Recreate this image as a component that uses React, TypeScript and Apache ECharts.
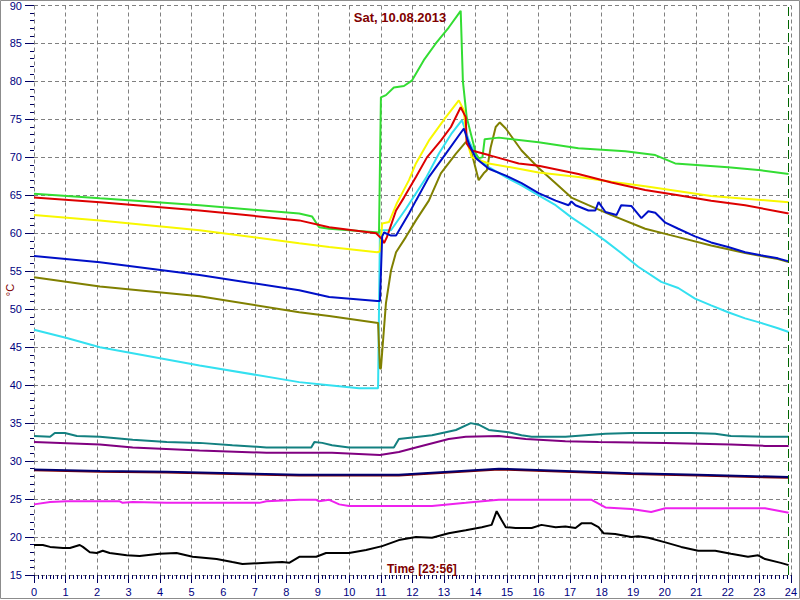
import { useEffect, useRef } from "react";
import * as echarts from "echarts";

const titleText = "Sat, 10.08.2013";
const xLabelText = "Time [23:56]";
const yLabelText = "°C";
const nowHour = 23.93;

const greenT = [0, 2.09, 5.25, 8.41, 8.82, 9.04, 9.36, 10.94, 11.0, 11.16, 11.41, 11.73, 11.98, 12.36, 12.74, 13.15, 13.53, 13.6, 13.72, 14.01, 14.1, 14.22, 14.29, 14.74, 16.0, 17.26, 18.75, 19.7, 20.33, 22.01, 23.05, 23.93];
const greenV = [65.2, 64.6, 63.7, 62.6, 62.2, 60.8, 60.6, 60.1, 77.9, 78.2, 79.2, 79.4, 80.1, 82.8, 85.0, 87.1, 89.3, 80.0, 75.3, 70.5, 69.9, 70.0, 72.4, 72.6, 72.0, 71.2, 70.8, 70.3, 69.2, 68.7, 68.3, 67.8];

const redT = [0, 2.09, 5.25, 8.41, 9.36, 10.85, 11.04, 11.1, 11.19, 11.48, 11.73, 12.11, 12.46, 12.9, 13.22, 13.53, 13.69, 13.72, 13.88, 14.42, 15.37, 16.0, 17.26, 18.31, 19.38, 20.43, 21.47, 22.55, 23.93];
const redV = [64.7, 64.1, 63.0, 61.7, 60.8, 60.0, 59.2, 58.7, 59.5, 63.0, 64.7, 67.4, 70.0, 72.2, 74.0, 76.6, 75.3, 71.8, 70.9, 70.3, 69.2, 68.9, 67.8, 66.7, 65.7, 65.0, 64.3, 63.7, 62.6];

const yellowT = [0, 2.09, 5.25, 8.41, 9.36, 10.88, 10.97, 11.04, 11.26, 11.51, 11.89, 12.11, 12.52, 13.06, 13.47, 13.63, 13.72, 13.88, 14.42, 15.37, 16.0, 17.26, 18.31, 19.38, 21.47, 23.93];
const yellowV = [62.4, 61.7, 60.4, 58.7, 58.2, 57.5, 57.6, 61.3, 61.5, 64.0, 67.0, 69.2, 72.2, 75.3, 77.5, 76.2, 72.2, 70.0, 69.2, 68.5, 68.0, 67.4, 66.8, 66.2, 64.9, 64.1];

const blueT = [0, 2.09, 5.25, 8.41, 9.36, 10.88, 10.97, 11.04, 11.1, 11.32, 11.48, 11.89, 12.11, 12.52, 13.06, 13.63, 13.79, 14.01, 14.42, 14.96, 15.46, 16.0, 16.54, 16.95, 17.04, 17.17, 17.58, 17.8, 17.9, 18.12, 18.47, 18.62, 18.94, 19.26, 19.48, 19.7, 20.02, 20.43, 20.96, 21.47, 22.01, 22.55, 23.05, 23.59, 23.93];
const blueV = [57.0, 56.2, 54.5, 52.5, 51.6, 51.1, 51.1, 59.6, 60.1, 59.7, 59.7, 62.6, 64.3, 67.4, 70.5, 73.8, 71.8, 69.9, 68.5, 67.6, 66.6, 65.3, 64.3, 63.7, 64.2, 63.7, 63.0, 63.0, 64.1, 62.8, 62.4, 63.7, 63.6, 62.0, 62.9, 62.7, 61.4, 60.6, 59.6, 58.8, 58.2, 57.5, 57.1, 56.7, 56.3];

const cyanT = [0, 1.04, 2.09, 5.25, 8.41, 9.36, 10.31, 10.91, 10.97, 11.32, 11.79, 12.43, 12.84, 13.25, 13.57, 13.79, 14.04, 14.42, 14.96, 15.46, 16.0, 16.54, 17.04, 17.58, 18.12, 18.62, 19.16, 19.89, 20.43, 20.96, 21.47, 22.01, 22.55, 23.05, 23.59, 23.93];
const cyanV = [47.3, 46.2, 45.0, 42.6, 40.4, 40.0, 39.6, 39.6, 60.4, 60.4, 63.2, 67.3, 70.5, 73.2, 74.9, 72.2, 70.0, 68.7, 67.4, 66.3, 65.0, 63.7, 62.1, 60.6, 59.0, 57.4, 55.6, 53.6, 52.8, 51.4, 50.5, 49.6, 48.8, 48.2, 47.5, 47.0];

const oliveT = [0, 2.09, 5.25, 8.41, 9.36, 10.91, 10.97, 11.0, 11.16, 11.32, 11.48, 11.79, 12.11, 12.52, 12.9, 13.38, 13.69, 13.79, 13.94, 14.1, 14.26, 14.36, 14.48, 14.64, 14.77, 14.96, 15.46, 16.0, 16.54, 17.04, 17.58, 18.31, 19.38, 20.43, 21.47, 22.55, 23.59, 23.93];
const oliveV = [54.2, 53.0, 51.7, 49.6, 49.1, 48.2, 42.2, 42.2, 50.8, 55.1, 57.5, 59.5, 61.7, 64.3, 67.9, 70.5, 72.0, 71.8, 69.6, 67.0, 67.9, 68.3, 71.3, 74.0, 74.6, 73.8, 70.9, 68.6, 66.6, 64.7, 63.7, 62.4, 60.6, 59.5, 58.4, 57.4, 56.6, 56.2];

const tealT = [0, 0.51, 0.66, 0.98, 1.36, 2.09, 3.13, 4.21, 5.25, 6.29, 7.37, 8.79, 8.89, 9.14, 9.45, 9.99, 11.41, 11.57, 12.62, 13.38, 13.85, 14.1, 14.42, 15.05, 15.46, 15.78, 16.85, 18.12, 18.94, 20.84, 21.6, 22.1, 23.18, 23.93];
const tealV = [33.3, 33.2, 33.7, 33.7, 33.3, 33.2, 32.8, 32.5, 32.4, 32.1, 31.8, 31.8, 32.5, 32.4, 32.1, 31.8, 31.8, 32.9, 33.4, 34.1, 35.0, 34.8, 34.1, 33.8, 33.4, 33.2, 33.2, 33.6, 33.7, 33.7, 33.6, 33.3, 33.2, 33.2];

const purpleT = [0, 2.09, 3.13, 5.25, 7.37, 9.45, 10.97, 11.57, 12.11, 13.15, 13.69, 14.74, 15.59, 16.85, 17.9, 20.02, 22.1, 23.18, 23.93];
const purpleV = [32.5, 32.2, 31.8, 31.4, 31.1, 31.1, 30.8, 31.2, 31.8, 32.9, 33.2, 33.3, 32.9, 32.6, 32.5, 32.4, 32.2, 32.0, 32.0];

const navyT = [0, 2.09, 4.21, 6.29, 8.41, 11.57, 14.74, 16.85, 18.94, 21.06, 23.93];
const navyV = [28.9, 28.7, 28.6, 28.4, 28.2, 28.2, 29.0, 28.7, 28.4, 28.2, 27.9];

const maroonT = [0, 2.09, 4.21, 6.29, 8.41, 11.57, 14.74, 16.85, 18.94, 21.06, 23.93];
const maroonV = [28.8, 28.6, 28.5, 28.3, 28.1, 28.1, 28.9, 28.6, 28.3, 28.1, 27.8];

const magentaT = [0, 0.51, 1.04, 2.72, 2.81, 3.13, 4.21, 7.15, 7.37, 8.41, 8.95, 9.04, 9.36, 9.68, 9.99, 11.57, 12.62, 13.69, 14.74, 17.68, 18.12, 18.94, 19.57, 20.02, 21.06, 23.18, 23.93];
const magentaV = [24.3, 24.6, 24.7, 24.7, 24.5, 24.6, 24.5, 24.5, 24.7, 24.9, 24.9, 24.7, 24.9, 24.3, 24.1, 24.1, 24.1, 24.5, 24.9, 24.9, 23.9, 23.7, 23.3, 23.8, 23.8, 23.8, 23.2];

const blackT = [0, 0.28, 0.51, 0.92, 1.14, 1.45, 1.55, 1.77, 1.99, 2.18, 2.4, 2.94, 3.35, 3.98, 4.52, 5.03, 5.79, 6.29, 6.61, 7.37, 7.87, 8.09, 8.41, 8.95, 9.26, 9.99, 10.53, 11.04, 11.57, 12.11, 12.62, 13.15, 13.69, 14.2, 14.51, 14.67, 14.83, 14.96, 15.27, 15.78, 16.09, 16.54, 16.85, 17.17, 17.36, 17.68, 17.9, 18.06, 18.43, 18.94, 19.16, 19.48, 20.02, 20.52, 21.06, 21.6, 22.1, 22.64, 22.96, 23.18, 23.68, 23.93];
const blackV = [18.95, 18.95, 18.7, 18.55, 18.55, 18.95, 18.7, 18.0, 17.9, 18.2, 17.9, 17.6, 17.5, 17.8, 17.9, 17.4, 17.1, 16.7, 16.45, 16.6, 16.7, 16.6, 17.4, 17.4, 17.9, 17.9, 18.3, 18.8, 19.6, 20.0, 19.9, 20.5, 20.9, 21.3, 21.6, 23.4, 22.2, 21.3, 21.2, 21.2, 21.6, 21.3, 21.4, 21.2, 21.8, 21.8, 21.3, 20.5, 20.4, 20.0, 20.1, 19.9, 19.3, 18.7, 18.2, 18.2, 17.8, 17.4, 17.6, 17.1, 16.6, 16.3];

const pairs = (t: number[], v: number[]) => t.map((x, i) => [x, v[i]]);

const FONT = '"Liberation Sans", Arial, sans-serif';

export default function App() {
  const ref = useRef<HTMLDivElement>(null);
  useEffect(() => {
    const chart = echarts.init(ref.current!, null, { renderer: "svg" });
    const mk = (name: string, color: string, t: number[], v: number[], extra: any = {}) => ({
      name,
      type: "line",
      data: pairs(t, v),
      showSymbol: false,
      symbol: "none",
      lineStyle: { color, width: 2 },
      itemStyle: { color },
      silent: true,
      ...extra,
    });
    chart.setOption({
      animation: false,
      backgroundColor: "#ffffff",
      grid: { left: 34, right: 7, top: 5, bottom: 25, containLabel: false },
      xAxis: {
        type: "value",
        min: 0,
        max: 24,
        interval: 1,
        axisLine: { show: false },
        axisTick: { show: true, length: 8, lineStyle: { color: "#000060", width: 1 } },
        minorTick: { show: true, splitNumber: 8, length: 4, lineStyle: { color: "#000060", width: 1 } },
        axisLabel: { color: "#000080", fontSize: 11, fontFamily: FONT, margin: 11 },
        splitLine: { show: true, lineStyle: { color: "#808080", type: [4, 3], width: 1 } },
      },
      yAxis: {
        type: "value",
        min: 15,
        max: 90,
        interval: 5,
        axisLine: { show: false },
        axisTick: { show: true, length: 9, lineStyle: { color: "#000060", width: 1 } },
        minorTick: { show: true, splitNumber: 5, length: 4, lineStyle: { color: "#000060", width: 1 } },
        axisLabel: { color: "#000080", fontSize: 11, fontFamily: FONT, margin: 12 },
        splitLine: { show: true, lineStyle: { color: "#808080", type: [4, 3], width: 1 } },
      },
      series: [
        mk("S11", "#000000", blackT, blackV, {
          markLine: {
            silent: true,
            symbol: "none",
            label: { show: false },
            lineStyle: { color: "#006400", type: [9, 4], width: 1 },
            data: [{ xAxis: nowHour }],
          },
        }),
        mk("S10", "#ee22ee", magentaT, magentaV),
        mk("S9b", "#800000", maroonT, maroonV),
        mk("S9", "#000070", navyT, navyV),
        mk("S8", "#800080", purpleT, purpleV),
        mk("S7", "#138080", tealT, tealV),
        mk("S6", "#33e0f0", cyanT, cyanV),
        mk("S5", "#808000", oliveT, oliveV),
        mk("S1", "#33dd33", greenT, greenV),
        mk("S3", "#f8f800", yellowT, yellowV),
        mk("S2", "#dd0000", redT, redV),
        mk("S4", "#0010c8", blueT, blueV),
      ],
      graphic: [
        {
          type: "rect",
          silent: true,
          z: 100,
          shape: { x: 0.5, y: 0.5, width: 799, height: 598 },
          style: { fill: "none", stroke: "#8c8c8c", lineWidth: 1 },
        },
        {
          type: "text",
          silent: true,
          z: 100,
          x: 400,
          y: 17,
          style: {
            text: titleText,
            fill: "#800000",
            font: 'bold 13px "Liberation Sans", Arial, sans-serif',
            textAlign: "center",
            textVerticalAlign: "middle",
          },
        },
        {
          type: "text",
          silent: true,
          z: 100,
          x: 387,
          y: 569,
          style: {
            text: xLabelText,
            fill: "#800000",
            font: 'bold 12px "Liberation Sans", Arial, sans-serif',
            textAlign: "left",
            textVerticalAlign: "middle",
          },
        },
        {
          type: "text",
          silent: true,
          z: 100,
          x: 10,
          y: 290,
          rotation: Math.PI / 2,
          style: {
            text: yLabelText,
            fill: "#800000",
            font: '11px "Liberation Sans", Arial, sans-serif',
            textAlign: "center",
            textVerticalAlign: "middle",
          },
        },
      ],
    });
    return () => chart.dispose();
  }, []);
  return (
    <div
      ref={ref}
      style={{ position: "absolute", left: 0, top: 0, width: 800, height: 600, background: "#fff" }}
    />
  );
}
